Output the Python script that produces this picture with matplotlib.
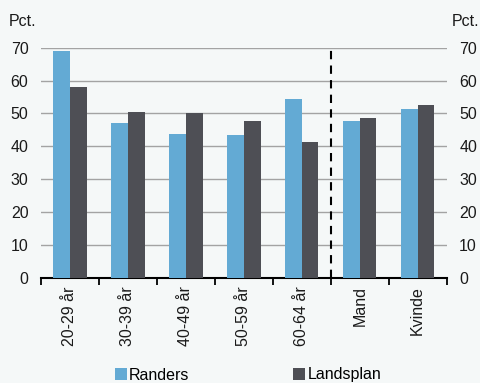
import matplotlib
matplotlib.use("Agg")
import matplotlib.pyplot as plt
import numpy as np

categories = ["20-29 år", "30-39 år", "40-49 år", "50-59 år", "60-64 år", "Mand", "Kvinde"]
randers = [69.1, 47.2, 43.7, 43.4, 54.5, 47.6, 51.4]
landsplan = [58.0, 50.4, 50.2, 47.6, 41.2, 48.6, 52.6]
series_names = ["Randers", "Landsplan"]
yticks = [0, 10, 20, 30, 40, 50, 60, 70]

plt.rcParams['font.family'] = ['Liberation Sans', 'DejaVu Sans']
bg = "#F5F8F8"
c_r = "#63AAD4"
c_l = "#4E4F55"
fs = 11.5
tc = "#1A1A1A"

fig = plt.figure(figsize=(4.81, 3.83), dpi=100, facecolor=bg)
ax = fig.add_axes([0.0852, 0.2742, 0.8435, 0.6013], facecolor=bg)

x = np.arange(len(categories))
w = 0.2875
ax.bar(x - w/2, randers, w, color=c_r, label=series_names[0], zorder=3)
ax.bar(x + w/2, landsplan, w, color=c_l, label=series_names[1], zorder=3)

ax.set_xlim(-0.5, len(categories) - 0.5)
ax.set_ylim(0, 70)
ax.set_yticks(yticks)
ax.yaxis.grid(True, color="#A3A3A3", linewidth=1, zorder=0)
ax.set_axisbelow(True)
ax.tick_params(axis='y', length=0, pad=9, labelsize=fs, colors=tc)

ax.set_xticks(x)
ax.set_xticklabels(categories, rotation=90, fontsize=fs, color=tc)
ax.set_xticks(np.arange(-0.5, len(categories), 1.0), minor=True)
ax.tick_params(axis='x', which='major', length=0, pad=6)
ax.tick_params(axis='x', which='minor', length=5, width=1.3, direction='out', color='black')

for s in ['top', 'left', 'right']:
    ax.spines[s].set_visible(False)
ax.spines['bottom'].set_linewidth(1.5)
ax.spines['bottom'].set_color('black')

ax2 = ax.twinx()
ax2.set_ylim(0, 70)
ax2.set_yticks(yticks)
ax2.tick_params(axis='y', length=0, pad=9, labelsize=fs, colors=tc)
for s in ['top', 'left', 'right', 'bottom']:
    ax2.spines[s].set_visible(False)

ax.plot([4.5, 4.5], [0, 70], color='black', linestyle=(0, (4, 3)), linewidth=1.5, zorder=4, clip_on=False)

fig.text(9/481, 1 - 21/383, "Pct.", fontsize=fs, va='center', ha='left', color=tc)
fig.text(452/481, 1 - 21/383, "Pct.", fontsize=fs, va='center', ha='left', color=tc)

fig.legend(loc='center', bbox_to_anchor=(0.516, 1 - 375/383), ncol=2, frameon=False,
           fontsize=fs, handlelength=0.75, handleheight=0.75, handletextpad=0.15,
           columnspacing=6.5, borderaxespad=0)

fig.savefig("out.png", dpi=100, facecolor=bg)
